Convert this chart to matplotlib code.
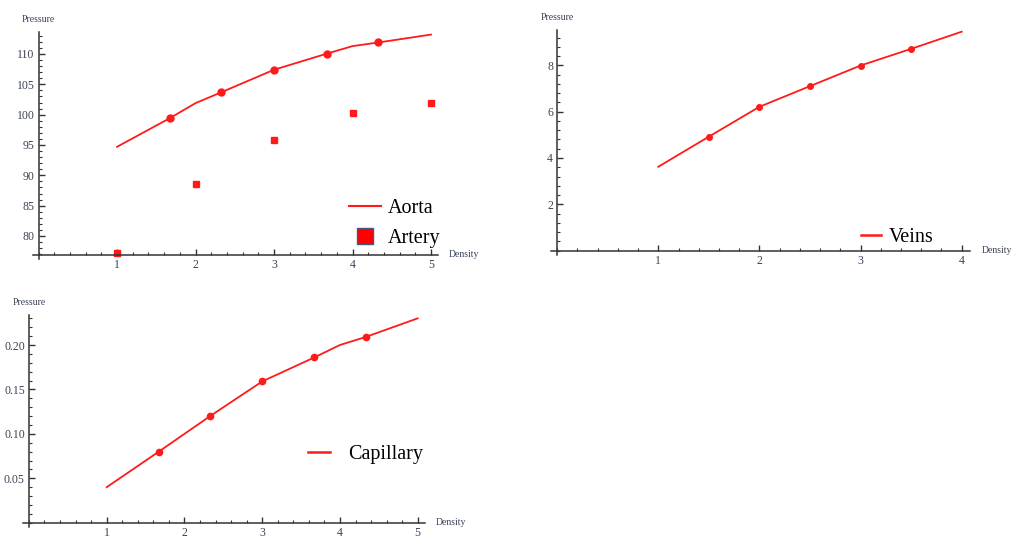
import numpy as np
import matplotlib
matplotlib.use("Agg")
from matplotlib import pyplot as plt
from matplotlib.lines import Line2D
from matplotlib.ticker import MultipleLocator

# data
aorta_x = [1, 1.67, 2, 2.33, 3, 3.67, 4, 4.33, 5]
aorta_y = [94.7, 99.4, 101.9, 103.7, 107.4, 110.05, 111.3, 111.9, 113.2]
aorta_mark_x = [1.67, 2.33, 3, 3.67, 4.33]
aorta_mark_y = [99.4, 103.7, 107.4, 110.05, 111.9]
artery_x = [1, 2, 3, 4, 5]
artery_y = [77.25, 88.6, 95.8, 100.2, 102.0]

veins_x = [1, 1.5, 2, 2.5, 3, 3.5, 4]
veins_y = [3.62, 4.92, 6.21, 7.10, 7.99, 8.71, 9.45]
veins_mark_x = [1.5, 2, 2.5, 3, 3.5]
veins_mark_y = [4.92, 6.21, 7.10, 7.99, 8.71]

cap_x = [1, 1.67, 2, 2.33, 3, 3.67, 4, 4.33, 5]
cap_y = [0.040, 0.080, 0.100, 0.120, 0.159, 0.186, 0.200, 0.209, 0.230]
cap_mark_x = [1.67, 2.33, 3, 3.67, 4.33]
cap_mark_y = [0.080, 0.120, 0.159, 0.186, 0.209]

RED = "#ff1a1a"
TXT = "#3c4258"
plt.rcParams["font.family"] = ["Liberation Serif", "DejaVu Serif"]

W, H = 1021, 538
fig = plt.figure(figsize=(W / 100, H / 100), dpi=100)


def make_axes(xcal, ycal, xlim, ylim, ymaj, ymin_step, yfmt):
    # xcal/ycal: two (value, pixel) pairs
    (xa, pxa), (xb, pxb) = xcal
    (ya, pya), (yb, pyb) = ycal
    sx = (pxb - pxa) / (xb - xa)
    sy = (pya - pyb) / (yb - ya)
    ex, ey = 6, 4  # axes stick out a few pixels past the crossing
    x_lo = xlim[0] - ex / sx
    y_lo = ylim[0] - ey / sy
    left = pxa + (x_lo - xa) * sx
    right = pxa + (xlim[1] - xa) * sx
    bottom = pya - (y_lo - ya) * sy
    top = pya - (ylim[1] - ya) * sy
    ax = fig.add_axes([left / W, 1 - bottom / H, (right - left) / W, (bottom - top) / H])
    ax.set_xlim(x_lo, xlim[1])
    ax.set_ylim(y_lo, ylim[1])
    for s in ["top", "right"]:
        ax.spines[s].set_visible(False)
    ax.spines["left"].set_position(("data", xlim[0]))
    ax.spines["bottom"].set_position(("data", ylim[0]))
    for s in ["left", "bottom"]:
        ax.spines[s].set_color("#333333")
        ax.spines[s].set_linewidth(1.1)
    ax.xaxis.set_minor_locator(MultipleLocator(0.2))
    ax.yaxis.set_minor_locator(MultipleLocator(ymin_step))
    ax.tick_params(which="major", direction="in", length=4, width=1.0,
                   color="#333333", labelsize=8.5, labelcolor=TXT)
    ax.tick_params(axis="x", which="major", pad=3)
    ax.tick_params(axis="y", which="major", pad=3)
    ax.tick_params(which="minor", direction="in", length=2.2, width=0.8,
                   color="#333333")
    xt = list(range(1, int(xlim[1]) + 1))
    ax.set_xticks(xt)
    ax.set_xticklabels([str(t) for t in xt])
    yt = np.arange(0, ylim[1] + 1e-9, ymaj)
    yt = [t for t in yt if ylim[0] + 1e-9 < t < ylim[1]]
    ax.set_yticks(yt)
    ax.set_yticklabels([yfmt.format(t) for t in yt])
    ax.patch.set_alpha(0)
    # axis names
    ax.annotate("Pressure", xy=(xlim[0], ylim[1]), xytext=(0, 9), textcoords="offset points",
                ha="center", va="center", fontsize=7, color=TXT, annotation_clip=False)
    ax.annotate("Density", xy=(xlim[1], ylim[0]), xytext=(8, 0), textcoords="offset points",
                ha="left", va="center", fontsize=7, color=TXT, annotation_clip=False)
    return ax


# top left: aorta / artery
ax1 = make_axes([(1, 117), (5, 431)], [(80, 236), (110, 54)],
                (0, 5.09), (76.9, 113.6), 5, 1, "{:.0f}")
ax1.plot(aorta_x, aorta_y, color=RED, lw=1.3)
ax1.plot(aorta_mark_x, aorta_mark_y, "o", color=RED, ms=5)
ax1.plot(artery_x, artery_y, "s", color=RED, ms=4.5, clip_on=False)
h1 = [Line2D([], [], color=RED, lw=1.5),
      Line2D([], [], ls="", marker="s", ms=11, mfc="#ff0000", mec="#4a5580", mew=1.0)]
fig.legend(h1, ["Aorta", "Artery"], loc="upper left",
           bbox_to_anchor=(339 / W, 1 - 189 / H), frameon=False,
           prop={"family": "Liberation Serif", "size": 14.5}, handlelength=1.6,
           handletextpad=0.3, labelspacing=0.55, borderpad=0)

# top right: veins
ax2 = make_axes([(1, 658.3), (4, 961.7)], [(2, 204.3), (8, 65.3)],
                (0, 4.083), (0, 9.52), 2, 0.4, "{:.0f}")
ax2.plot(veins_x, veins_y, color=RED, lw=1.3)
ax2.plot(veins_mark_x, veins_mark_y, "o", color=RED, ms=4)
fig.legend([Line2D([], [], color=RED, lw=1.8)], ["Veins"], loc="upper left",
           bbox_to_anchor=(851 / W, 1 - 218 / H), frameon=False,
           prop={"family": "Liberation Serif", "size": 14.5}, handlelength=1.0,
           handletextpad=0.4, borderpad=0)

# bottom left: capillary
ax3 = make_axes([(1, 106.7), (5, 417.7)], [(0.05, 478.3), (0.20, 345)],
                (0, 5.09), (0, 0.2338), 0.05, 0.01, "{:.2f}")
ax3.plot(cap_x, cap_y, color=RED, lw=1.3)
ax3.plot(cap_mark_x, cap_mark_y, "o", color=RED, ms=4.5)
fig.legend([Line2D([], [], color=RED, lw=1.8)], ["Capillary"], loc="upper left",
           bbox_to_anchor=(298 / W, 1 - 435 / H), frameon=False,
           prop={"family": "Liberation Serif", "size": 14.5}, handlelength=1.1,
           handletextpad=0.9, borderpad=0)

fig.savefig("out.png", dpi=100)
